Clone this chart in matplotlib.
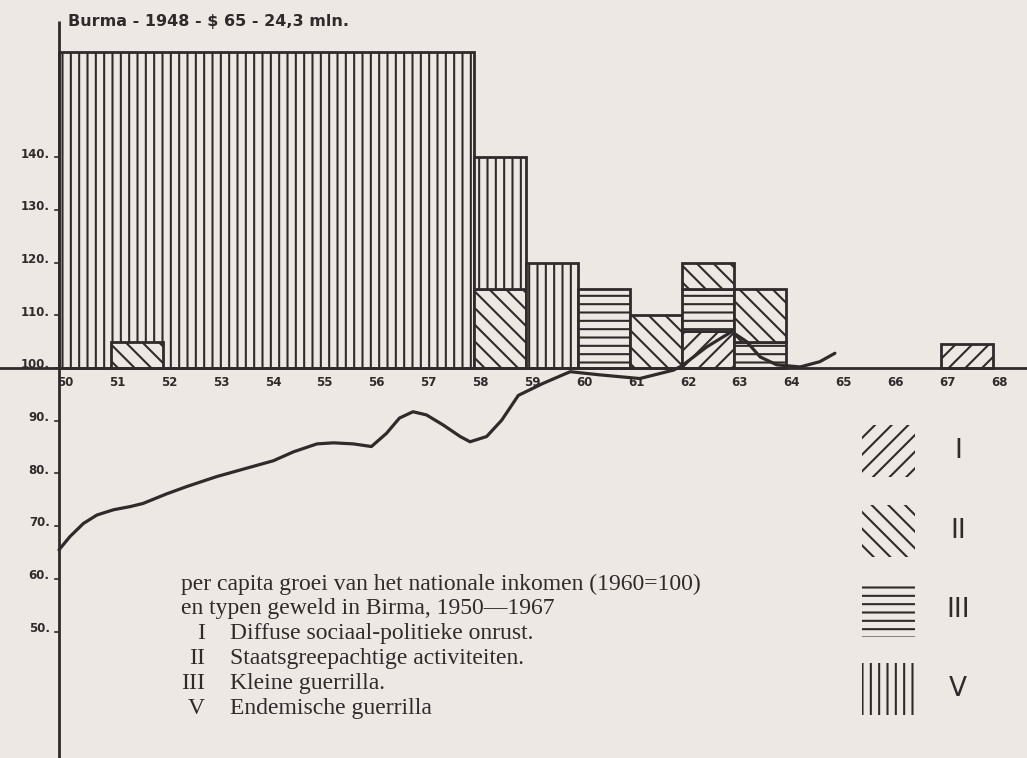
import matplotlib
matplotlib.use("Agg")
import matplotlib.pyplot as plt
from matplotlib.patches import Rectangle

# ---------------- data ----------------
title = "Burma - 1948 - $ 65 - 24,3 mln."
year_ticks = [50, 51, 52, 53, 54, 55, 56, 57, 58, 59, 60, 61, 62, 63, 64, 65, 66, 67, 68]
value_ticks = [140, 130, 120, 110, 100, 90, 80, 70, 60, 50]

# violence bars: (start year, end year, bottom, top, type)
bar_start = [50, 51, 58, 58, 59, 60, 61, 62, 62, 62, 63, 63, 67]
bar_end = [58, 52, 59, 59, 60, 61, 62, 63, 63, 63, 64, 64, 68]
bar_bottom = [100, 100, 100, 115, 100, 100, 100, 100, 107, 115, 100, 105, 100]
bar_top = [160, 105, 115, 140, 120, 115, 110, 107, 115, 120, 105, 115, 104.5]
bar_type = ["V", "II", "II", "V", "V", "III", "II", "I", "III", "II", "III", "II", "I"]

# per capita income index (1960 = 100)
income_year = [50.0, 50.21, 50.47, 50.73, 51.05, 51.37, 51.62, 52.07, 52.46, 53.04,
               53.62, 54.13, 54.52, 54.97, 55.29, 55.67, 56.02, 56.31, 56.56, 56.82,
               57.08, 57.40, 57.73, 57.92, 58.24, 58.53, 58.85, 59.33, 59.85, 60.42,
               61.19, 61.84, 62.0, 62.48, 62.96, 63.25, 63.51, 63.83, 64.28, 64.66, 64.95]
income_value = [65.5, 68.0, 70.5, 72.1, 73.1, 73.7, 74.3, 76.1, 77.5, 79.4,
                81.0, 82.4, 84.1, 85.6, 85.8, 85.6, 85.1, 87.6, 90.5, 91.7,
                91.1, 89.2, 87.0, 86.0, 87.0, 90.1, 94.8, 97.1, 99.3, 98.7,
                98.0, 99.6, 100.4, 104.0, 106.9, 105.0, 102.1, 100.6, 100.2, 101.2, 102.8]

legend_types = ["I", "II", "III", "V"]
caption_lines = ["per capita groei van het nationale inkomen (1960=100)",
                 "en typen geweld in Birma, 1950\u20141967"]
caption_numerals = ["I", "II", "III", "V"]
caption_items = ["Diffuse sociaal-politieke onrust.",
                 "Staatsgreepachtige activiteiten.",
                 "Kleine guerrilla.",
                 "Endemische guerrilla"]

# ---------------- style ----------------
paper = "#eee8e5"
ink = "#2f2b2b"
hatches = {"I": "//", "II": "\\\\", "III": "--", "V": "||"}

plt.rcParams["hatch.color"] = ink
plt.rcParams["hatch.linewidth"] = 1.5

W, H = 1027, 758
fig = plt.figure(figsize=(W / 100, H / 100), dpi=100, facecolor=paper)
ax = fig.add_axes([0, 0, 1, 1])
ax.set_facecolor(paper)

# pixel mapping: year 50 at x=59 px, 51.9 px/year; value 100 at y=368 px, 5.27 px/unit
px_year, x0 = 51.9, 59
px_val, y0 = 5.27, 368
ax.set_xlim(50 - x0 / px_year, 50 + (W - x0) / px_year)
ax.set_ylim(100 - (H - y0) / px_val, 100 + y0 / px_val)
ax.axis("off")

# bars
for s, e, b, t, k in zip(bar_start, bar_end, bar_bottom, bar_top, bar_type):
    ax.add_patch(Rectangle((s, b), e - s, t - b, facecolor=paper, edgecolor=ink,
                           linewidth=2.0, hatch=hatches[k], zorder=2))

# axes lines
ax.axhline(100, color=ink, lw=2.0, zorder=4)
ax.plot([50, 50], [ax.get_ylim()[0], 100 + (y0 - 21) / px_val], color=ink, lw=2.0,
        zorder=4, solid_capstyle="butt")

# income curve
ax.plot(income_year, income_value, color=ink, lw=2.3, zorder=5,
        solid_joinstyle="round", solid_capstyle="round")

# tick labels
for yr in year_ticks:
    ax.text(yr + 0.12, 97.2, str(yr), ha="center", va="center", fontsize=8.5,
            fontweight="bold", color=ink, family="DejaVu Sans")
for v in value_ticks:
    ax.text(49.82, v + 0.6, f"{v}.", ha="right", va="center", fontsize=8.5,
            fontweight="bold", color=ink, family="DejaVu Sans")
    ax.plot([49.92, 50], [v, v], color=ink, lw=1.2, zorder=4)

# title
fig.text(68 / W, 1 - 26 / H, title, ha="left", va="baseline", fontsize=11.5,
         color=ink, family="DejaVu Sans", fontweight="bold")

# legend swatches
sw_bottoms = [281, 201, 121, 43]
lab_centers = [451, 531, 610, 689]
for k, b, c in zip(legend_types, sw_bottoms, lab_centers):
    fig.patches.append(Rectangle((862 / W, b / H), 53 / W, 52 / H, fill=False,
                                 edgecolor=ink, linewidth=0, hatch=hatches[k],
                                 transform=fig.transFigure, figure=fig))
    fig.text(958 / W, 1 - c / H, k, ha="center", va="center", fontsize=19,
             color=ink, family="DejaVu Sans")

# caption
serif = ["Liberation Serif", "DejaVu Serif"]
baselines = [590, 614, 639, 664, 689, 714]
fs = 17
for line, yb in zip(caption_lines, baselines[:2]):
    fig.text(181 / W, 1 - yb / H, line, ha="left", va="baseline", fontsize=fs,
             color=ink, family=serif)
for num, item, yb in zip(caption_numerals, caption_items, baselines[2:]):
    fig.text(205 / W, 1 - yb / H, num, ha="right", va="baseline", fontsize=fs,
             color=ink, family=serif)
    fig.text(230 / W, 1 - yb / H, item, ha="left", va="baseline", fontsize=fs,
             color=ink, family=serif)

fig.savefig("out.png", dpi=100, facecolor=paper)
